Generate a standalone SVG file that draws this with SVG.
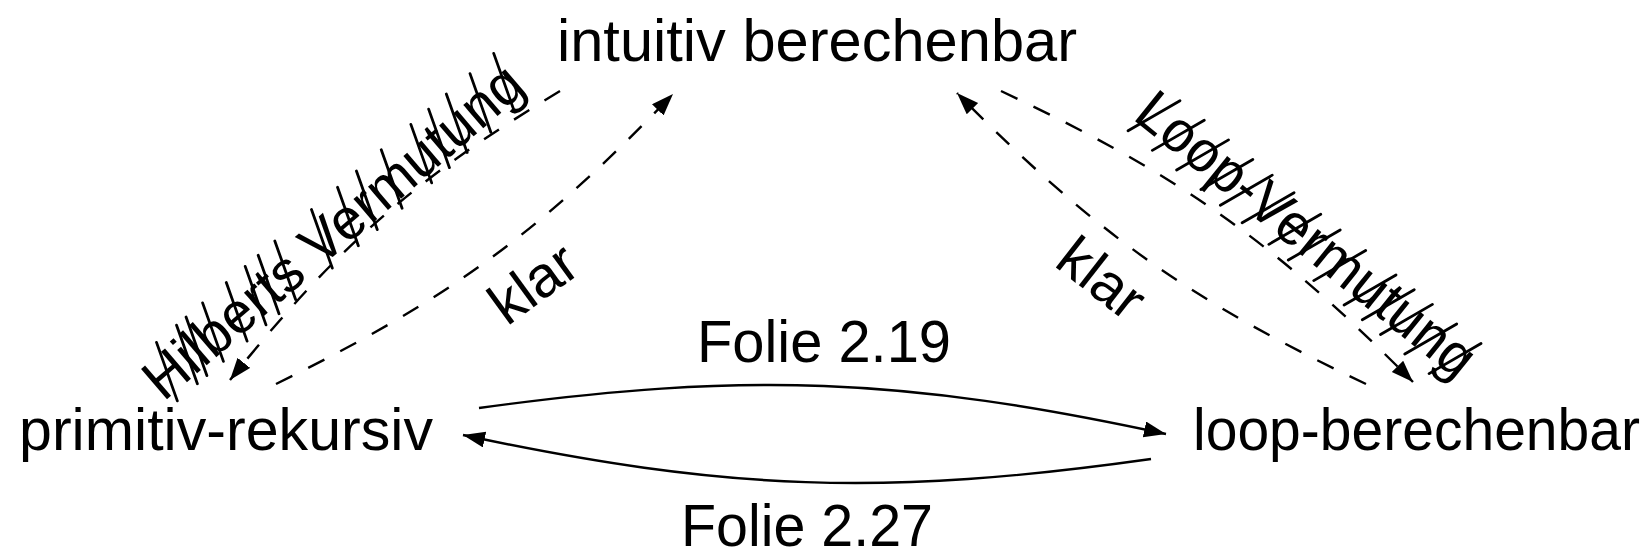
<svg xmlns="http://www.w3.org/2000/svg" width="1648" height="552" viewBox="0 0 1648 552">
  <style>
    .node { font-family: "Liberation Sans", Arial, sans-serif; font-size: 59px; fill: #000; }
    .lbl { font-family: "Liberation Sans", Arial, sans-serif; font-size: 58px; fill: #000; }
    .edge { fill: none; stroke: #000; stroke-width: 2.4; }
    .dash { stroke-dasharray: 18 18; }
    .strike { fill: none; stroke: #000; stroke-width: 2.8; stroke-linecap: round; }
  </style>
  <defs>
    <marker id="tip" markerUnits="userSpaceOnUse" markerWidth="26" markerHeight="20" refX="22" refY="8" orient="auto">
      <path d="M0,0 L22,8 L0,16 Z" fill="#000"/>
    </marker>
  </defs>
  <rect width="1648" height="552" fill="#fff"/>

  <!-- nodes -->
  <g id="node-intuitiv">
    <text class="node" x="817" y="61" text-anchor="middle" textLength="520" lengthAdjust="spacingAndGlyphs">intuitiv berechenbar</text>
  </g>
  <g id="node-primitiv">
    <text class="node" x="226" y="450" text-anchor="middle" textLength="414" lengthAdjust="spacingAndGlyphs">primitiv-rekursiv</text>
  </g>
  <g id="node-loop">
    <text class="node" x="1416.5" y="450" text-anchor="middle" textLength="447" lengthAdjust="spacingAndGlyphs">loop-berechenbar</text>
  </g>

  <!-- connectors -->
  <g id="edges">
    <!-- primitiv -> loop (Folie 2.19) -->
    <path class="edge" d="M479,408 C745.6,371.3 903,377.3 1166,434" marker-end="url(#tip)"/>
    <text class="node" x="824" y="362" text-anchor="middle" textLength="254" lengthAdjust="spacingAndGlyphs">Folie 2.19</text>
    <!-- loop -> primitiv (Folie 2.27) -->
    <path class="edge" d="M1151,459 C884.2,496.6 726.6,491.1 463,435" marker-end="url(#tip)"/>
    <text class="node" x="807" y="546" text-anchor="middle" textLength="252" lengthAdjust="spacingAndGlyphs">Folie 2.27</text>

    <!-- primitiv -> intuitiv (klar) -->
    <path class="edge dash" d="M276,384 C448.8,299.2 539.6,232.8 673,94" marker-end="url(#tip)"/>
    <g transform="translate(533,283) rotate(-36)">
      <text class="lbl" x="0" y="20" text-anchor="middle">klar</text>
    </g>
    <!-- intuitiv -> primitiv (Hilberts Vermutung), letters struck through -->
    <path class="edge dash" d="M560,91 C413.2,180 337.6,246.2 230,380" marker-end="url(#tip)"/>
    <g transform="translate(336.5,235.5) rotate(-40.6)">
      <text class="lbl" x="0" y="14" text-anchor="middle" textLength="480" lengthAdjust="spacingAndGlyphs">Hilberts Vermutung</text>
      <path class="strike" d="M-228.5,22 l22.3,-58 M-202.1,22 l22.3,-58 M-189.6,22 l22.3,-58 M-167.8,22 l22.3,-58 M-136.6,22 l22.3,-58 M-111.7,22 l22.3,-58 M-94.6,22 l22.3,-58 M-72.7,22 l22.3,-58 M-24.4,22 l22.3,-58 M9.9,22 l22.3,-58 M34.8,22 l22.3,-58 M67.5,22 l22.3,-58 M106.5,22 l22.3,-58 M129.9,22 l22.3,-58 M153.2,22 l22.3,-58 M184.4,22 l22.3,-58 M215.6,22 l22.3,-58"/>
    </g>

    <!-- loop -> intuitiv (klar) -->
    <path class="edge dash" d="M1366,384 C1188.6,299.6 1094.9,233 957,93" marker-end="url(#tip)"/>
    <g transform="translate(1102,278) rotate(38)">
      <text class="lbl" x="0" y="20" text-anchor="middle">klar</text>
    </g>
    <!-- intuitiv -> loop (Loop-Vermutung), letters struck through -->
    <path class="edge dash" d="M1001,91 C1179.7,175.2 1273.9,241.8 1413,382" marker-end="url(#tip)"/>
    <g transform="translate(1303,238.5) rotate(38.9)">
      <text class="lbl" x="0" y="14" text-anchor="middle" textLength="418" lengthAdjust="spacingAndGlyphs">Loop-Vermutung</text>
      <path class="strike" d="M-203.8,26 l21.5,-56 M-172.6,26 l21.5,-56 M-141.4,26 l21.5,-56 M-110.2,26 l21.5,-56 M-85.2,26 l21.5,-56 M-57.2,26 l21.5,-56 M-22.9,26 l21.5,-56 M2.1,26 l21.5,-56 M34.8,26 l21.5,-56 M73.8,26 l21.5,-56 M97.2,26 l21.5,-56 M120.6,26 l21.5,-56 M151.8,26 l21.5,-56 M183,26 l21.5,-56"/>
    </g>
  </g>
</svg>
